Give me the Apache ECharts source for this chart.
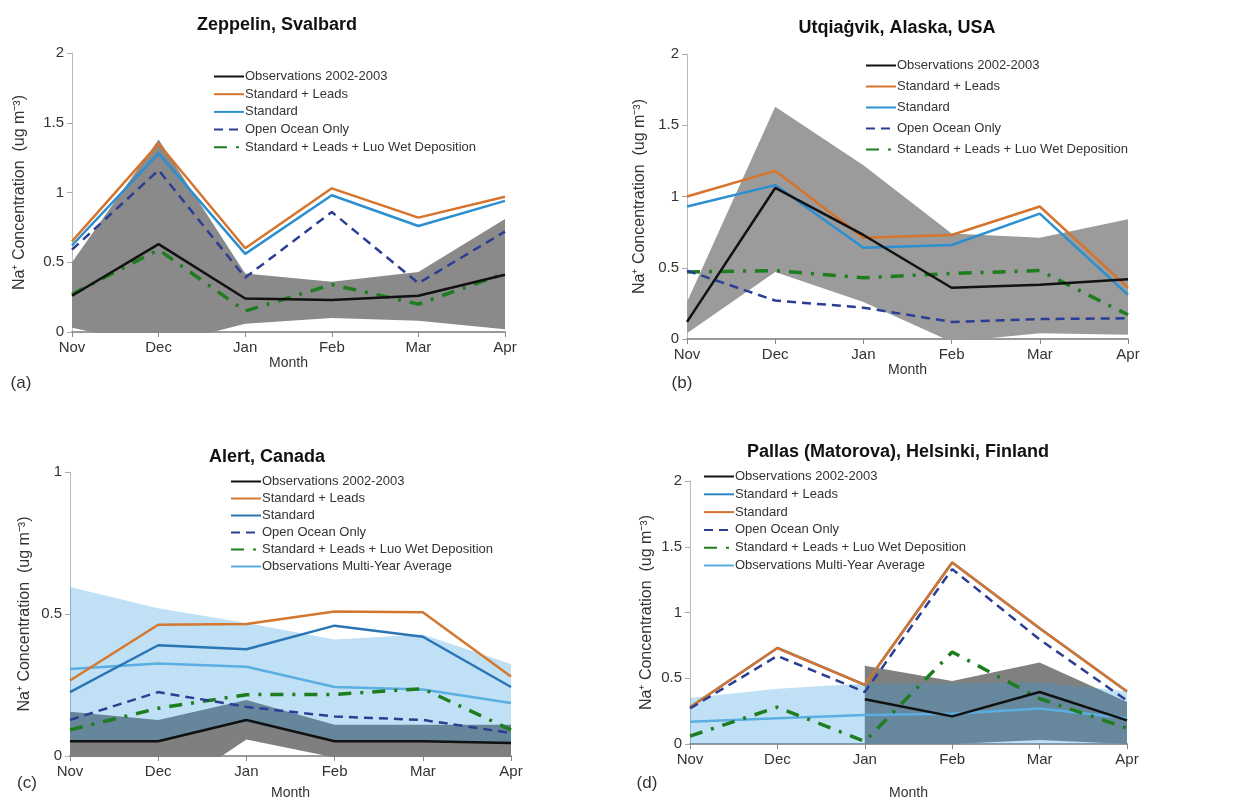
<!DOCTYPE html>
<html>
<head>
<meta charset="utf-8">
<title>Na+ concentration at four Arctic sites</title>
<script src="https://cdn.jsdelivr.net/npm/echarts@6/dist/echarts.min.js"></script>
<style>
html, body { margin: 0; padding: 0; background: #fff; }
#chart { width: 1241px; height: 801px; }
</style>
</head>
<body>
<div id="chart"></div>
<script>
// months on every x axis
var months = ['Nov', 'Dec', 'Jan', 'Feb', 'Mar', 'Apr'];

// (a) Zeppelin, Svalbard
var aObs   = [0.26, 0.63, 0.24, 0.23, 0.26, 0.41];
var aLeads = [0.65, 1.35, 0.60, 1.03, 0.82, 0.97];
var aStd   = [0.62, 1.28, 0.56, 0.98, 0.76, 0.94];
var aOpen  = [0.59, 1.16, 0.39, 0.86, 0.35, 0.72];
var aLuo   = [0.27, 0.59, 0.15, 0.34, 0.20, 0.42];
var aGrayHi = [0.50, 1.38, 0.42, 0.36, 0.43, 0.81];
var aGrayLo = [0.03, -0.10, 0.06, 0.10, 0.08, 0.02];

// (b) Utqiagvik, Alaska
var bObs   = [0.12, 1.06, 0.73, 0.36, 0.38, 0.42];
var bLeads = [1.00, 1.18, 0.71, 0.73, 0.93, 0.36];
var bStd   = [0.93, 1.08, 0.64, 0.66, 0.88, 0.31];
var bOpen  = [0.48, 0.27, 0.22, 0.12, 0.14, 0.145];
var bLuo   = [0.47, 0.48, 0.43, 0.46, 0.48, 0.17];
var bGrayHi = [0.26, 1.63, 1.22, 0.74, 0.71, 0.84];
var bGrayLo = [0.04, 0.47, 0.26, -0.02, 0.04, 0.03];

// (c) Alert, Canada
var cObs   = [0.052, 0.052, 0.127, 0.052, 0.052, 0.046];
var cLeads = [0.266, 0.462, 0.465, 0.509, 0.506, 0.28];
var cStd   = [0.225, 0.39, 0.376, 0.459, 0.42, 0.243];
var cOpen  = [0.127, 0.225, 0.173, 0.139, 0.127, 0.081];
var cLuo   = [0.092, 0.168, 0.216, 0.217, 0.237, 0.092];
var cAvg   = [0.306, 0.326, 0.314, 0.243, 0.234, 0.187];
var cBlueHi = [0.595, 0.52, 0.468, 0.41, 0.428, 0.324];
var cBlueLo = [0.05, 0.05, 0.12, 0.05, 0.05, 0.045];
var cGrayHi = [0.156, 0.127, 0.197, 0.11, 0.11, 0.11];
var cGrayLo = [-0.10, -0.15, 0.058, -0.005, -0.02, -0.02];

// (d) Pallas (Matorova), Finland
var dObs   = [null, null, 0.34, 0.21, 0.395, 0.18];
var dLeads = [0.28, 0.73, 0.45, 1.38, 0.88, 0.40];
var dStd   = [0.28, 0.73, 0.45, 1.38, 0.88, 0.40];
var dOpen  = [0.27, 0.67, 0.395, 1.33, 0.795, 0.33];
var dLuo   = [0.06, 0.28, 0.02, 0.70, 0.345, 0.12];
var dAvg   = [0.17, 0.195, 0.22, 0.23, 0.27, 0.195];
var dBlueHi = [0.35, 0.42, 0.46, 0.46, 0.47, 0.40];
var dBlueLo = [0, 0, 0, 0, 0, 0];
var dGrayHi = [null, null, 0.595, 0.48, 0.62, 0.32];
var dGrayLo = [null, null, 0, 0, 0.03, 0];

var legendNames = ['Observations 2002-2003', 'Standard + Leads', 'Standard',
  'Open Ocean Only', 'Standard + Leads + Luo Wet Deposition'];
var legendNames6 = legendNames.concat(['Observations Multi-Year Average']);

var FONT = '"Liberation Sans", Arial, sans-serif';
var LIGHT = 'rgba(45,155,222,0.3)';

function line(p, name, data, gi, color, kind) {
  var ls = { color: color, width: 2.5, type: 'solid' };
  if (kind === 'dash') { ls.type = [9, 6]; }
  if (kind === 'dashdot') { ls.type = [13, 9, 3, 9]; ls.width = 3.5; }
  return {
    name: p + '|' + name, type: 'line', xAxisIndex: gi, yAxisIndex: gi,
    data: data, symbol: 'none', lineStyle: ls, itemStyle: { color: color },
    z: 3, silent: true
  };
}

// shaded range: invisible lower line + stacked difference with fill
function band(id, lo, hi, gi, fill) {
  var diff = hi.map(function (v, i) {
    return v == null ? null : +(v - lo[i]).toFixed(3);
  });
  return [
    { type: 'line', xAxisIndex: gi, yAxisIndex: gi, data: lo, stack: id,
      stackStrategy: 'all', symbol: 'none', lineStyle: { opacity: 0 }, z: 1, silent: true },
    { type: 'line', xAxisIndex: gi, yAxisIndex: gi, data: diff, stack: id,
      stackStrategy: 'all', symbol: 'none', lineStyle: { opacity: 0 },
      areaStyle: { color: fill, opacity: 1 }, z: 1, silent: true }
  ];
}

function legend(p, names, left, top, gap) {
  return {
    data: names.map(function (n) { return p + '|' + n; }),
    formatter: function (n) { return n.slice(2); },
    orient: 'vertical', left: left, top: top, itemWidth: 30, itemHeight: 14,
    itemGap: gap, selectedMode: false, padding: 0,
    itemStyle: { opacity: 0 },
    textStyle: { fontSize: 13, color: '#333', fontFamily: FONT, padding: [0, 0, 0, -4] }
  };
}

function xAx(gi, gap) {
  return {
    type: 'category', gridIndex: gi, data: months, boundaryGap: false,
    axisLine: { lineStyle: { color: '#9a9a9a', width: 2 } },
    axisTick: { show: true, length: 5, lineStyle: { color: '#888' } },
    axisLabel: { fontSize: 15, color: '#333', fontFamily: FONT, margin: 8 },
    name: 'Month', nameLocation: 'middle', nameGap: gap,
    nameTextStyle: { fontSize: 14, color: '#333', fontFamily: FONT }
  };
}

function yAx(gi, max, gap) {
  return {
    type: 'value', gridIndex: gi, min: 0, max: max, interval: 0.5,
    axisLine: { show: true, lineStyle: { color: '#bbb', width: 1 } },
    axisTick: { show: true, length: 5, lineStyle: { color: '#aaa' } },
    splitLine: { show: false },
    axisLabel: { fontSize: 15, color: '#333', fontFamily: FONT, margin: 8 },
    name: 'Na\u207A Concentration  (ug m\u207B\u00B3)', nameLocation: 'middle', nameGap: gap,
    nameTextStyle: { fontSize: 16, color: '#333', fontFamily: FONT }
  };
}

function txt(x, y, s, size, bold) {
  return {
    type: 'text', x: x, y: y,
    style: { text: s, fontSize: size, fontWeight: bold ? 'bold' : 'normal',
      fill: bold ? '#111' : '#333', fontFamily: FONT, align: 'center', verticalAlign: 'middle' }
  };
}

var series = [].concat(
  band('ga', aGrayLo, aGrayHi, 0, '#8a8a8a'),
  [line('a', legendNames[4], aLuo, 0, '#1e7d1e', 'dashdot'),
   line('a', legendNames[3], aOpen, 0, '#2c3e94', 'dash'),
   line('a', legendNames[2], aStd, 0, '#2b8fd0'),
   line('a', legendNames[1], aLeads, 0, '#d6732d'),
   line('a', legendNames[0], aObs, 0, '#111')],

  band('gb', bGrayLo, bGrayHi, 1, '#9b9b9b'),
  [line('b', legendNames[4], bLuo, 1, '#1e7d1e', 'dashdot'),
   line('b', legendNames[3], bOpen, 1, '#2c3e94', 'dash'),
   line('b', legendNames[2], bStd, 1, '#2b8fd0'),
   line('b', legendNames[1], bLeads, 1, '#d6732d'),
   line('b', legendNames[0], bObs, 1, '#111')],

  band('gc', cGrayLo, cGrayHi, 2, '#7f7f7f'),
  band('lc', cBlueLo, cBlueHi, 2, LIGHT),
  [line('c', legendNames6[5], cAvg, 2, '#5aaee2'),
   line('c', legendNames[4], cLuo, 2, '#1e7d1e', 'dashdot'),
   line('c', legendNames[3], cOpen, 2, '#2c3e94', 'dash'),
   line('c', legendNames[2], cStd, 2, '#2a75b5'),
   line('c', legendNames[1], cLeads, 2, '#d4772f'),
   line('c', legendNames[0], cObs, 2, '#111')],

  band('gd', dGrayLo, dGrayHi, 3, '#808080'),
  band('ld', dBlueLo, dBlueHi, 3, LIGHT),
  [line('d', legendNames6[5], dAvg, 3, '#5aaee2'),
   line('d', legendNames[4], dLuo, 3, '#1e7d1e', 'dashdot'),
   line('d', legendNames[1], dLeads, 3, '#2d87c0'),
   line('d', legendNames[2], dStd, 3, '#d6732d'),
   line('d', legendNames[3], dOpen, 3, '#2c3e94', 'dash'),
   line('d', legendNames[0], dObs, 3, '#111')]
);

var chart = echarts.init(document.getElementById('chart'), null, { renderer: 'canvas' });
chart.setOption({
  animation: false,
  backgroundColor: '#fff',
  grid: [
    { left: 72, top: 53, width: 433, height: 279 },
    { left: 687, top: 54, width: 441, height: 285 },
    { left: 70, top: 472, width: 441, height: 288 },
    { left: 690, top: 481, width: 437, height: 267 }
  ],
  xAxis: [xAx(0, 23), xAx(1, 19), xAx(2, 30), xAx(3, 42)],
  yAxis: [yAx(0, 2, 44), yAx(1, 2, 39), yAx(2, 1, 37), yAx(3, 2, 35)],
  legend: [
    legend('a', legendNames, 213, 70, 4.7),
    legend('b', legendNames, 865, 59, 8),
    legend('c', legendNames6, 230, 475, 4),
    legend('d', ['Observations 2002-2003', 'Standard + Leads', 'Standard', 'Open Ocean Only',
      'Standard + Leads + Luo Wet Deposition', 'Observations Multi-Year Average'], 703, 470, 4.8)
  ],
  graphic: [
    txt(277, 25, 'Zeppelin, Svalbard', 18, true),
    txt(897, 28, 'Utqiaġvik, Alaska, USA', 18, true),
    txt(267, 457, 'Alert, Canada', 18, true),
    txt(898, 452, 'Pallas (Matorova), Helsinki, Finland', 18, true),
    txt(21, 383, '(a)', 17),
    txt(682, 383, '(b)', 17),
    txt(27, 783, '(c)', 17),
    txt(647, 783, '(d)', 17)
  ],
  series: series
});
</script>
</body>
</html>
